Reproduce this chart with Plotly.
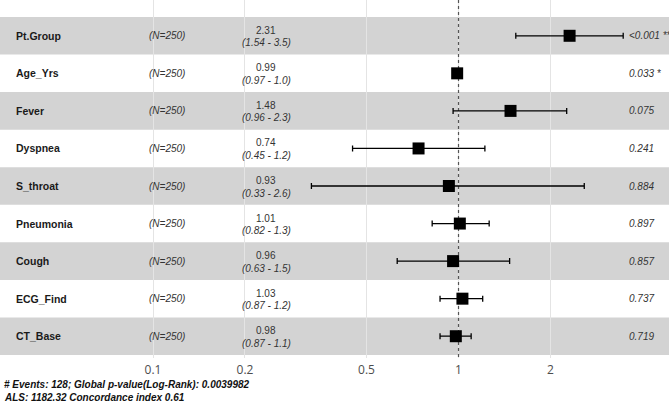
import plotly.graph_objects as go

# ---- data ----
variables = ["Pt.Group", "Age_Yrs", "Fever", "Dyspnea", "S_throat",
             "Pneumonia", "Cough", "ECG_Find", "CT_Base"]
n_obs = [250, 250, 250, 250, 250, 250, 250, 250, 250]
hazard_ratio = [2.31, 0.99, 1.48, 0.74, 0.93, 1.01, 0.96, 1.03, 0.98]
ci_low = [1.54, 0.97, 0.96, 0.45, 0.33, 0.82, 0.63, 0.87, 0.87]
ci_high = [3.46, 1.00, 2.26, 1.22, 2.58, 1.26, 1.47, 1.20, 1.10]
p_labels = ["<0.001 **", "0.033 *", "0.075", "0.241", "0.884",
            "0.897", "0.857", "0.737", "0.719"]
tick_vals = [0.1, 0.2, 0.5, 1, 2]
tick_text = ["0.1", "0.2", "0.5", "1", "2"]
caption_lines = ["# Events: 128; Global p-value(Log-Rank): 0.0039982",
                 "ALS: 1182.32 Concordance index 0.61"]

W, H = 669, 403
rows = list(range(1, len(variables) + 1))
Y_TOP, Y_BOT = 0.047, 9.58
TXT = "Liberation Sans Narrow, Arial Narrow, Liberation Sans, Arial, sans-serif"

fig = go.Figure()

# reference dotted line at HR = 1
fig.add_trace(go.Scatter(
    x=[1, 1], y=[Y_TOP, Y_BOT], mode="lines",
    line=dict(color="#555555", width=1.2, dash="dot"),
    hoverinfo="skip", showlegend=False))

# estimates with confidence intervals
fig.add_trace(go.Scatter(
    x=hazard_ratio, y=rows, mode="markers",
    marker=dict(symbol="square", size=12, color="black"),
    error_x=dict(type="data", symmetric=False,
                 array=[h - m for h, m in zip(ci_high, hazard_ratio)],
                 arrayminus=[m - l for m, l in zip(hazard_ratio, ci_low)],
                 color="black", thickness=1.3, width=3),
    showlegend=False))

# alternating row bands
for r in rows:
    if r % 2 == 1:
        fig.add_shape(type="rect", xref="paper", yref="y",
                      x0=0, x1=1, y0=r - 0.5, y1=r + 0.5,
                      fillcolor="#d3d3d3", line=dict(width=0), layer="below")

anns = []
for r, name, n, hr, lo, hi, p in zip(rows, variables, n_obs, hazard_ratio,
                                      ci_low, ci_high, p_labels):
    anns.append(dict(xref="paper", yref="y", x=14 / W, y=r, text=f"<b>{name}</b>",
                     xanchor="left", yanchor="middle", showarrow=False,
                     font=dict(family=TXT, size=10.5, color="#1a1a1a")))
    anns.append(dict(xref="paper", yref="y", x=147 / W, y=r, text=f"<i>(N={n})</i>",
                     xanchor="left", yanchor="middle", showarrow=False,
                     font=dict(family=TXT, size=10, color="#333333")))
    anns.append(dict(xref="paper", yref="y", x=266 / W, y=r, yshift=5.5,
                     text=f"{hr:.2f}", xanchor="center", yanchor="middle",
                     showarrow=False, font=dict(family=TXT, size=10, color="#333333")))
    anns.append(dict(xref="paper", yref="y", x=266 / W, y=r, yshift=-7,
                     text=f"<i>({lo:.2f} - {hi:.1f})</i>", xanchor="center",
                     yanchor="middle", showarrow=False,
                     font=dict(family=TXT, size=10, color="#333333")))
    anns.append(dict(xref="paper", yref="y", x=627 / W, y=r, text=f"<i>{p}</i>",
                     xanchor="left", yanchor="middle", showarrow=False,
                     font=dict(family=TXT, size=10, color="#333333")))

for i, line in enumerate(caption_lines):
    anns.append(dict(xref="paper", yref="paper", x=2 / W, y=0,
                     yshift=-26 - 13 * i, text=f"<b><i>{line}</i></b>",
                     xanchor="left", yanchor="middle", showarrow=False,
                     font=dict(family=TXT, size=10, color="#111111")))

fig.update_layout(
    width=W, height=H,
    margin=dict(l=0, r=0, t=0, b=H - 358),
    paper_bgcolor="white", plot_bgcolor="white",
    annotations=anns,
    xaxis=dict(type="log", range=[-1.5008, 0.689],
               tickvals=tick_vals, ticktext=tick_text,
               showgrid=True, gridcolor="#e4e4e4", gridwidth=1,
               zeroline=False, showline=False, ticks="",
               ticklabelstandoff=3,
               tickfont=dict(family="Open Sans", size=12, color="#4d4d4d")),
    yaxis=dict(range=[Y_BOT, Y_TOP], showgrid=False, zeroline=False,
               showticklabels=False, ticks="", showline=False),
)

fig.write_html("out.html", config={"displayModeBar": False},
               post_script="document.body.style.margin='0';")
